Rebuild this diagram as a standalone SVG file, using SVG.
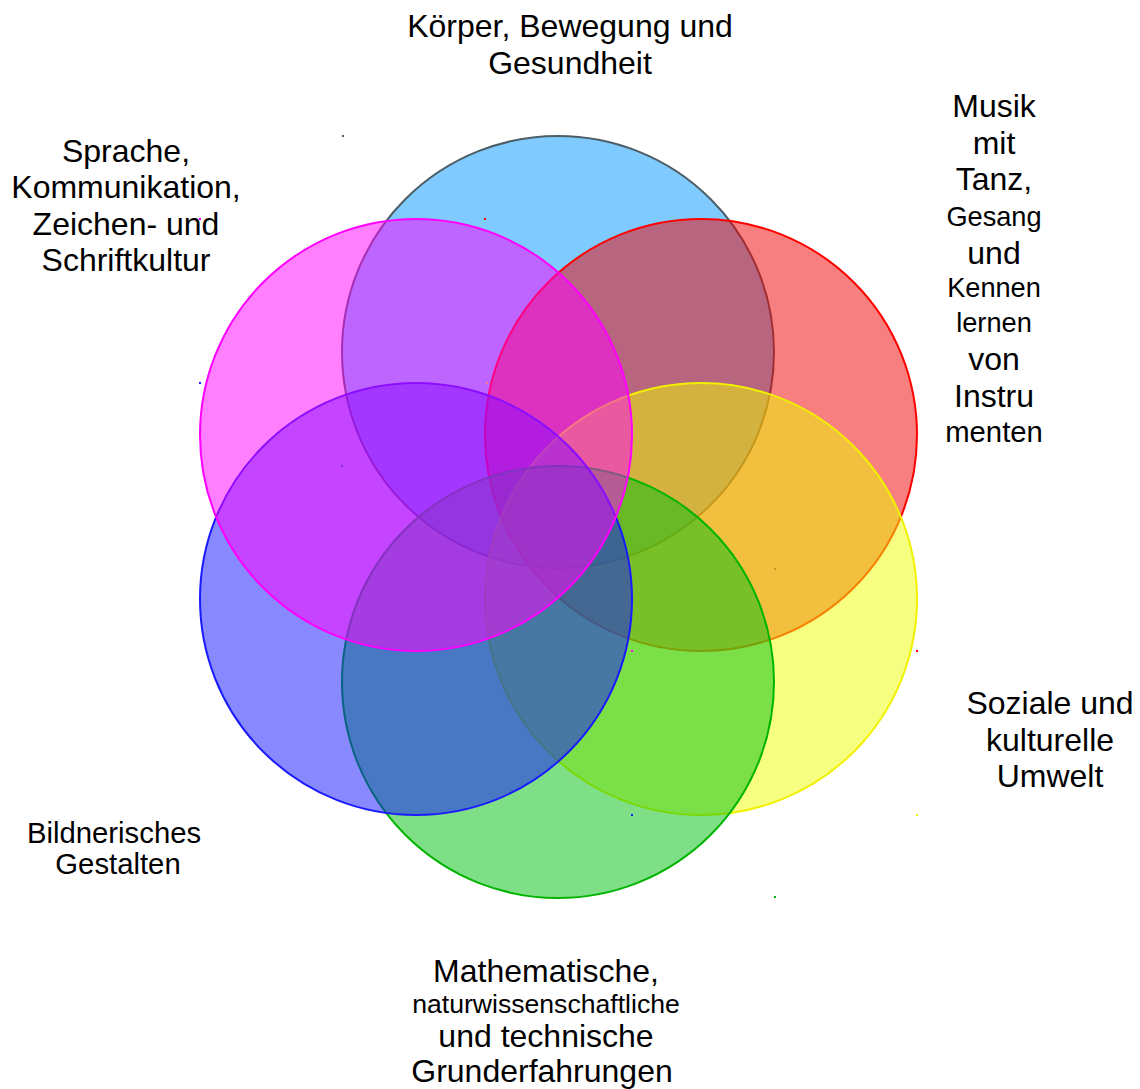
<svg xmlns="http://www.w3.org/2000/svg" width="1140" height="1089" viewBox="0 0 1140 1089">
<style>
  .c { stroke-width: 2; fill-opacity: 0.5; }
  .t { font-family: "Liberation Sans", Arial, sans-serif; fill: #000; text-anchor: middle; }
  .big { font-size: 32px; }
  .sm { font-size: 27.2px; }
  .xs { font-size: 26.6px; }
  .md { font-size: 29.3px; }
</style>
<rect width="1140" height="1089" fill="#ffffff"/>
<g id="circles">
  <g id="koerper">
    <rect x="342" y="135" width="2" height="2" fill="#4d5d66"/>
    <rect x="774" y="568" width="2" height="2" fill="#4d5d66"/>
    <circle class="c" cx="558" cy="352" r="216" fill="#0096ff" stroke="#4d5d66"/>
  </g>
  <g id="musik">
    <rect x="484" y="218" width="2" height="2" fill="#ff0000"/>
    <rect x="916" y="650" width="2" height="2" fill="#ff0000"/>
    <circle class="c" cx="701" cy="435" r="216" fill="#f20000" stroke="#ff0000"/>
  </g>
  <g id="soziale">
    <rect x="486" y="382" width="2" height="2" fill="#f0f000"/>
    <rect x="916" y="814" width="2" height="2" fill="#f0f000"/>
    <circle class="c" cx="701" cy="599" r="216" fill="#eeff00" stroke="#f0f000"/>
  </g>
  <g id="mathematik">
    <rect x="341" y="465" width="2" height="2" fill="#00b400"/>
    <rect x="774" y="896" width="2" height="2" fill="#00b400"/>
    <circle class="c" cx="558" cy="682" r="216" fill="#00c010" stroke="#00b400"/>
  </g>
  <g id="bildnerisch">
    <rect x="199" y="382" width="2" height="2" fill="#1a1aff"/>
    <rect x="631" y="814" width="2" height="2" fill="#1a1aff"/>
    <circle class="c" cx="416" cy="599" r="216" fill="#1111ff" stroke="#1a1aff"/>
  </g>
  <g id="sprache">
    <rect x="199" y="218" width="2" height="2" fill="#ff00ff"/>
    <rect x="631" y="650" width="2" height="2" fill="#ff00ff"/>
    <circle class="c" cx="416" cy="435" r="216" fill="#ff00ff" stroke="#ff00ff"/>
  </g>
</g>
<g id="connectors"></g>
<g id="labels">
  <g id="label-koerper" class="t big">
    <text x="570" y="37">Körper, Bewegung und</text>
    <text x="570" y="74">Gesundheit</text>
  </g>
  <g id="label-sprache" class="t big">
    <text x="126" y="162">Sprache,</text>
    <text x="126" y="198">Kommunikation,</text>
    <text x="126" y="235">Zeichen- und</text>
    <text x="126" y="271">Schriftkultur</text>
  </g>
  <g id="label-musik" class="t">
    <text class="big" x="994" y="117">Musik</text>
    <text class="big" x="994" y="154">mit</text>
    <text class="big" x="994" y="190">Tanz,</text>
    <text class="sm" x="994" y="226">Gesang</text>
    <text class="big" x="994" y="264">und</text>
    <text class="sm" x="994" y="297">Kennen</text>
    <text class="sm" x="994" y="332">lernen</text>
    <text class="big" x="994" y="370">von</text>
    <text class="big" x="994" y="407">Instru</text>
    <text class="md" x="994" y="442">menten</text>
  </g>
  <g id="label-soziale" class="t big">
    <text x="1050" y="714">Soziale und</text>
    <text x="1050" y="751">kulturelle</text>
    <text x="1050" y="787">Umwelt</text>
  </g>
  <g id="label-bildnerisch" class="t md">
    <text x="114" y="843">Bildnerisches</text>
    <text x="118" y="874">Gestalten</text>
  </g>
  <g id="label-mathematik" class="t">
    <text class="big" x="546" y="982">Mathematische,</text>
    <text class="xs" x="546" y="1013">naturwissenschaftliche</text>
    <text class="big" x="546" y="1047">und technische</text>
    <text class="big" x="542" y="1082">Grunderfahrungen</text>
  </g>
</g>
</svg>
